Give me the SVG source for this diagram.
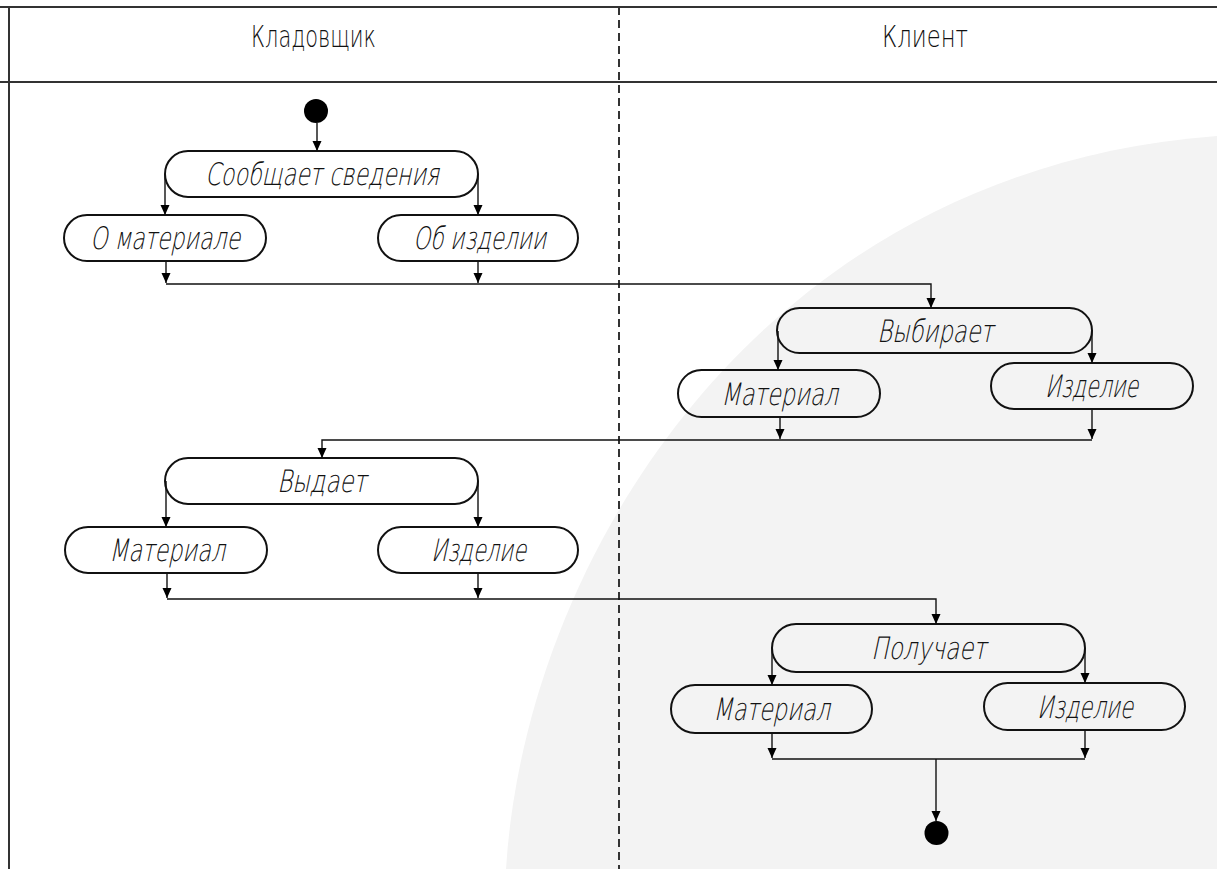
<svg xmlns="http://www.w3.org/2000/svg" width="1217" height="869" viewBox="0 0 1217 869">
<style>
.frame{stroke:#333;stroke-width:2;fill:none}
.lane{stroke:#333;stroke-width:2;stroke-dasharray:8 5;fill:none}
.node rect{fill:none;stroke:#111;stroke-width:2}
.node text,.hdr{font-family:"DejaVu Sans","Liberation Sans",sans-serif;fill:#111;text-anchor:start}
.node text{font-size:31px;font-weight:200}
.hdr{font-size:31px;font-weight:200}
.conn path{stroke:#111;stroke-width:1.4;fill:none}
.dot{fill:#000}
</style>
<defs>
<marker id="arr" markerUnits="userSpaceOnUse" markerWidth="10" markerHeight="10" refX="10" refY="4.5" orient="auto">
<path d="M0,0 L10,4.5 L0,9 Z" fill="#000"/>
</marker>
</defs>
<rect width="1217" height="869" fill="#fff"/>
<path d="M506,869 C525,560 760,170 1217,136 L1217,869 Z" fill="#f3f3f3"/>
<g id="frame">
<path class="frame" d="M0,7 H1217 M0,82 H1217 M9,7 V869"/>
<path class="lane" d="M619,7 V869"/>
<text class="hdr" x="251" y="47" textLength="125" lengthAdjust="spacingAndGlyphs">Кладовщик</text>
<text class="hdr" x="882" y="47" textLength="86" lengthAdjust="spacingAndGlyphs">Клиент</text>
</g>
<g id="start"><circle class="dot" cx="316" cy="111" r="12"/></g>
<g id="n-soobshchaet" class="node"><rect x="165" y="151" width="313" height="46" rx="23"/><text transform="translate(205,185) skewX(-12)" textLength="234" lengthAdjust="spacingAndGlyphs">Сообщает сведения</text></g>
<g id="n-o-materiale" class="node"><rect x="64" y="215" width="202" height="46" rx="23"/><text transform="translate(90,249) skewX(-12)" textLength="150" lengthAdjust="spacingAndGlyphs">О материале</text></g>
<g id="n-ob-izdelii" class="node"><rect x="378" y="215" width="200" height="46" rx="23"/><text transform="translate(413,249) skewX(-12)" textLength="133" lengthAdjust="spacingAndGlyphs">Об изделии</text></g>
<g id="n-vybiraet" class="node"><rect x="777" y="308" width="315" height="45" rx="22.5"/><text transform="translate(877,342) skewX(-12)" textLength="116" lengthAdjust="spacingAndGlyphs">Выбирает</text></g>
<g id="n-vybiraet-material" class="node"><rect x="678" y="370" width="202" height="47" rx="23.5"/><text transform="translate(721,405) skewX(-12)" textLength="117" lengthAdjust="spacingAndGlyphs">Материал</text></g>
<g id="n-vybiraet-izdelie" class="node"><rect x="991" y="363" width="202" height="46" rx="23"/><text transform="translate(1045,397) skewX(-12)" textLength="93" lengthAdjust="spacingAndGlyphs">Изделие</text></g>
<g id="n-vydaet" class="node"><rect x="165" y="458" width="313" height="46" rx="23"/><text transform="translate(277,492) skewX(-12)" textLength="89" lengthAdjust="spacingAndGlyphs">Выдает</text></g>
<g id="n-vydaet-material" class="node"><rect x="65" y="527" width="202" height="46" rx="23"/><text transform="translate(109,561) skewX(-12)" textLength="116" lengthAdjust="spacingAndGlyphs">Материал</text></g>
<g id="n-vydaet-izdelie" class="node"><rect x="378" y="527" width="200" height="46" rx="23"/><text transform="translate(431,561) skewX(-12)" textLength="95" lengthAdjust="spacingAndGlyphs">Изделие</text></g>
<g id="n-poluchaet" class="node"><rect x="772" y="624" width="313" height="48" rx="24"/><text transform="translate(871,659) skewX(-12)" textLength="115" lengthAdjust="spacingAndGlyphs">Получает</text></g>
<g id="n-poluchaet-material" class="node"><rect x="671" y="685" width="201" height="48" rx="24"/><text transform="translate(713,720) skewX(-12)" textLength="117" lengthAdjust="spacingAndGlyphs">Материал</text></g>
<g id="n-poluchaet-izdelie" class="node"><rect x="984" y="683" width="201" height="47" rx="23.5"/><text transform="translate(1037,718) skewX(-12)" textLength="96" lengthAdjust="spacingAndGlyphs">Изделие</text></g>
<g id="end"><circle class="dot" cx="936.5" cy="833" r="12"/></g>
<g id="connectors" class="conn">
<path d="M317,123 V151" marker-end="url(#arr)"/>
<path d="M165,174 V215" marker-end="url(#arr)"/>
<path d="M478,174 V215" marker-end="url(#arr)"/>
<path d="M166,261 V283" marker-end="url(#arr)"/>
<path d="M478,261 V283" marker-end="url(#arr)"/>
<path d="M166,284 H931 V308" marker-end="url(#arr)"/>
<path d="M778,331 V370" marker-end="url(#arr)"/>
<path d="M1092,331 V363" marker-end="url(#arr)"/>
<path d="M780,417 V439" marker-end="url(#arr)"/>
<path d="M1092,409 V439" marker-end="url(#arr)"/>
<path d="M1092,440 H322 V458" marker-end="url(#arr)"/>
<path d="M166,481 V527" marker-end="url(#arr)"/>
<path d="M478,481 V527" marker-end="url(#arr)"/>
<path d="M167,573 V598" marker-end="url(#arr)"/>
<path d="M478,573 V598" marker-end="url(#arr)"/>
<path d="M167,599 H936 V624" marker-end="url(#arr)"/>
<path d="M772,648 V685" marker-end="url(#arr)"/>
<path d="M1085,648 V683" marker-end="url(#arr)"/>
<path d="M772,733 V758" marker-end="url(#arr)"/>
<path d="M1085,730 V758" marker-end="url(#arr)"/>
<path d="M772,759 H1085"/>
<path d="M936,759 V821" marker-end="url(#arr)"/>
</g>
</svg>
